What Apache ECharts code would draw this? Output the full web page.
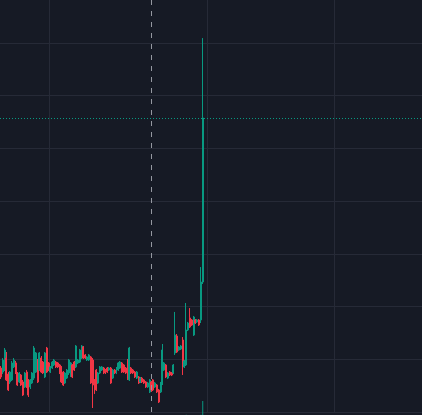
<!DOCTYPE html>
<html>
<head>
<meta charset="utf-8">
<script src="https://cdn.jsdelivr.net/npm/echarts@6/dist/echarts.min.js"></script>
<style>
html,body{margin:0;padding:0;background:#161A25;}
#chart{width:422px;height:415px;}
</style>
</head>
<body>
<div id="chart"></div>
<script>
// ---- data ----
const slotCount = 230;               // time slots on the x axis (data + empty future)
const gridSlots = [27, 113, 182];    // time slots carrying a vertical grid line
const markerSlot = 82;               // dashed vertical marker
const opens = [41.7,37.9,39.8,51.2,36.0,28.5,30.4,42.7,46.5,37.0,28.5,35.1,28.5,23.7,37.9,30.4,23.7,27.5,32.2,37.9,
  49.3,39.8,51.2,47.4,33.2,60.7,46.5,37.9,41.7,44.6,47.4,46.5,44.6,42.7,37.9,27.5,32.2,37.0,37.0,44.6,
  47.4,42.7,46.5,47.4,51.2,61.7,54.1,49.3,49.3,52.2,49.3,30.4,39.8,27.5,37.0,39.8,41.7,39.8,41.7,39.8,
  41.7,32.2,39.8,37.0,39.8,41.7,46.5,44.6,41.7,49.3,30.4,41.7,39.8,37.9,32.2,33.2,28.5,32.2,30.4,28.5,
  23.7,19.0,28.5,30.4,23.7,25.6,20.9,19.0,27.5,39.8,44.6,32.2,37.9,37.0,37.0,56.0,72.1,58.8,59.8,68.3,
  42.7,44.6,77.8,89.2,87.3,73.0,87.3,85.4,87.3,87.3,123.3];
const closes = [33.2,49.3,58.8,30.4,20.9,37.9,46.5,49.3,37.0,25.6,37.0,25.6,16.1,37.0,23.7,16.1,30.4,37.0,60.7,56.0,
  28.5,56.0,37.9,37.0,56.0,37.9,39.8,42.7,47.4,49.3,42.7,42.7,37.0,28.5,25.6,37.0,39.8,49.3,46.5,33.2,
  39.8,62.6,49.3,58.8,62.6,51.2,51.2,52.2,54.1,27.5,25.6,18.0,20.9,37.0,42.7,42.7,37.0,37.0,37.9,41.7,
  27.5,39.8,37.0,41.7,46.5,47.4,37.9,37.9,37.0,32.2,60.7,37.0,37.0,33.2,37.9,27.5,32.2,28.5,27.5,23.7,
  27.5,30.4,20.9,20.9,27.5,19.0,9.5,27.5,58.8,46.5,33.2,37.0,35.1,35.1,44.6,73.0,56.9,61.7,62.6,44.6,
  48.4,77.8,84.4,80.6,82.5,90.1,84.4,87.3,82.5,123.3,278.9];
const lows = [31.3,36.0,38.9,29.4,19.9,26.6,29.4,41.7,36.0,24.7,27.5,24.7,15.2,22.8,22.8,14.2,21.8,26.6,30.4,37.0,
  27.5,38.9,37.0,36.0,32.2,37.0,38.9,37.0,40.8,43.6,41.7,41.7,36.0,27.5,24.7,26.6,31.3,35.1,33.2,32.2,
  38.9,41.7,45.5,46.5,50.3,50.3,50.3,48.4,48.4,26.6,3.8,17.1,19.9,26.6,36.0,38.9,36.0,36.0,37.0,38.9,
  26.6,31.3,36.0,36.0,38.9,40.8,37.0,37.0,36.0,30.4,29.4,36.0,36.0,32.2,31.3,26.6,27.5,27.5,26.6,22.8,
  22.8,18.0,19.0,19.9,22.8,18.0,8.5,18.0,25.6,38.9,32.2,31.3,34.1,34.1,36.0,54.1,56.0,57.9,58.8,35.1,
  41.7,43.6,76.8,79.7,81.6,72.1,83.5,84.4,81.6,84.4,121.4];
const highs = [43.6,51.2,60.7,56.9,37.9,38.9,48.4,51.2,48.4,37.9,37.9,36.0,30.4,37.9,39.8,31.3,31.3,37.9,62.6,56.9,
  50.3,56.9,53.1,48.4,56.9,61.7,47.4,43.6,48.4,50.3,48.4,47.4,45.5,43.6,38.9,37.9,40.8,50.3,47.4,45.5,
  48.4,63.5,50.3,59.8,63.5,62.6,55.0,53.1,55.0,53.1,51.2,31.3,40.8,37.9,43.6,43.6,42.7,40.8,42.7,42.7,
  42.7,40.8,40.8,42.7,47.4,48.4,47.4,45.5,42.7,50.3,61.7,42.7,40.8,38.9,38.9,34.1,33.2,33.2,31.3,29.4,
  28.5,31.3,29.4,31.3,28.5,26.6,21.8,28.5,64.5,47.4,45.5,37.9,38.9,37.9,45.5,94.9,74.0,62.6,63.5,71.1,
  49.3,103.4,85.4,98.6,88.2,91.1,88.2,88.2,88.2,137.5,354.7];
const volumes = [3,4,5,4,3,2,3,2,3,3,2,3,4,3,3,4,2,2,5,3,
  4,3,3,2,4,4,2,2,2,2,2,2,2,3,3,2,2,3,3,3,
  3,5,2,3,3,3,2,2,2,4,6,3,3,2,2,1,1,1,1,1,
  2,2,1,1,2,2,2,2,2,3,5,2,1,1,2,2,2,2,2,2,
  2,3,2,2,2,2,4,3,8,3,3,2,1,1,2,9,5,2,2,6,
  2,10,4,5,3,6,2,2,2,15,1050];
const priceTicks = {min: 0, max: 390.8, interval: 50};

// ---- chart ----
const categories = Array.from({length: slotCount}, (_, i) => String(i));
const ohlc = opens.map((o, i) => [o, closes[i], lows[i], highs[i]]);
const UP = '#089981', DOWN = '#F23645', GRID = '#262A37';

const chart = echarts.init(document.getElementById('chart'), null, {renderer: 'canvas'});
chart.setOption({
  animation: false,
  backgroundColor: '#161A25',
  grid: [
    {left: 0, right: 0, top: 0, bottom: 3},
    {left: 0, right: 0, bottom: 0, height: 70}
  ],
  xAxis: [
    {type: 'category', data: categories, gridIndex: 0, boundaryGap: true,
     axisLine: {show: false}, axisTick: {show: false}, axisLabel: {show: false},
     splitLine: {show: true, interval: (idx) => gridSlots.includes(idx), lineStyle: {color: GRID, width: 1}}},
    {type: 'category', data: categories, gridIndex: 1, boundaryGap: true,
     axisLine: {show: false}, axisTick: {show: false}, axisLabel: {show: false}, splitLine: {show: false}}
  ],
  yAxis: [
    {type: 'value', gridIndex: 0, min: priceTicks.min, max: priceTicks.max, interval: priceTicks.interval,
     axisLine: {show: false}, axisTick: {show: false}, axisLabel: {show: false},
     splitLine: {show: true, showMaxLine: false, lineStyle: {color: GRID, width: 1}}},
    {type: 'value', gridIndex: 1, min: 0, max: 5250,
     axisLine: {show: false}, axisTick: {show: false}, axisLabel: {show: false}, splitLine: {show: false}}
  ],
  series: [
    {type: 'bar', xAxisIndex: 1, yAxisIndex: 1, data: volumes, barWidth: 1,
     itemStyle: {color: UP}, silent: true, z: 1},
    {type: 'candlestick', xAxisIndex: 0, yAxisIndex: 0, data: ohlc, barWidth: '80%', z: 3,
     itemStyle: {color: UP, color0: DOWN, borderColor: UP, borderColor0: DOWN, borderWidth: 1},
     markLine: {
       silent: true, symbol: 'none', label: {show: false}, animation: false,
       data: [
         {xAxis: categories[markerSlot], lineStyle: {color: '#9598A1', type: [5, 6], width: 1}},
         {yAxis: closes[closes.length - 1], lineStyle: {color: UP, type: [1, 2], width: 1}}
       ]
     }}
  ]
});
</script>
</body>
</html>
